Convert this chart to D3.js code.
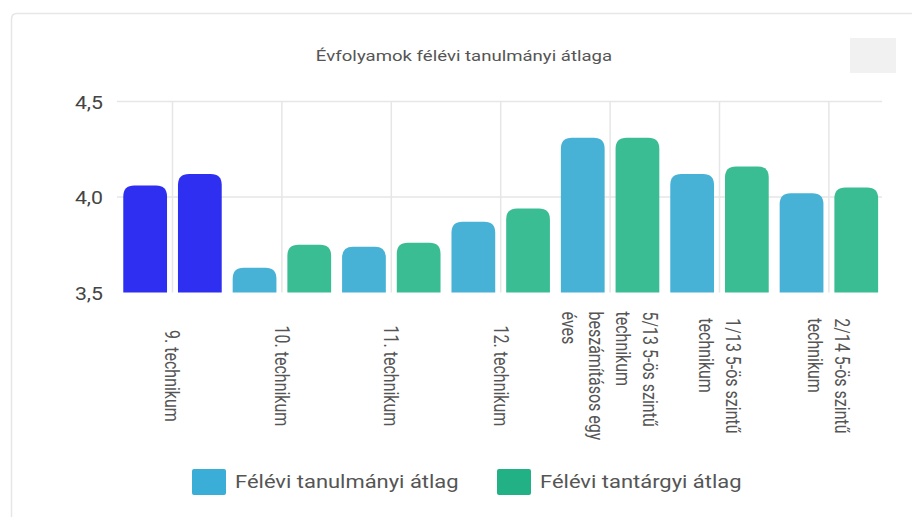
<!DOCTYPE html>
<html>
<head>
<meta charset="utf-8">
<script src="https://cdn.jsdelivr.net/npm/d3@7"></script>
<style>
  body { margin: 0; background: #fff; }
  text { font-family: Roboto, "Noto Sans", sans-serif; }
</style>
</head>
<body>
<svg id="chart"></svg>
<script>
// évfolyamok (több soros címkék)
var categories = [
  ["9. technikum"],
  ["10. technikum"],
  ["11. technikum"],
  ["12. technikum"],
  ["5/13 5-ös szintű", "technikum", "beszámításos egy", "éves"],
  ["1/13 5-ös szintű", "technikum"],
  ["2/14 5-ös szintű", "technikum"]
];
var seriesNames = ["Félévi tanulmányi átlag", "Félévi tantárgyi átlag"];
var tanulmanyi = [4.06, 3.63, 3.74, 3.87, 4.31, 4.12, 4.02];
var tantargyi = [4.12, 3.75, 3.76, 3.94, 4.31, 4.16, 4.05];
var yTicks = [3.5, 4.0, 4.5];
var chartTitle = "Évfolyamok félévi tanulmányi átlaga";

var W = 912, H = 517;
var stretch = 1.22; // a kép vízszintesen nyújtott
var colors = ["#47b2d5", "#3bbd94"];
var highlight = "#2f2ff2"; // az első évfolyam kiemelve
var legendColors = ["#3aaed6", "#22b185"];

var svg = d3.select("#chart").attr("width", W).attr("height", H);

// kártya keret
svg.append("path")
  .attr("d", "M11.5," + H + " V19 Q11.5,13.5 17,13.5 H" + W)
  .attr("fill", "none").attr("stroke", "#e6e6e6").attr("stroke-width", 1.5);

// szürke gomb jobb fent
svg.append("rect").attr("x", 850).attr("y", 38).attr("width", 46).attr("height", 35)
  .attr("fill", "#f1f1f1");

svg.append("text")
  .attr("transform", "translate(464,61) scale(" + 1.24 + ",1)")
  .attr("text-anchor", "middle").attr("font-size", 15).attr("fill", "#555")
  .text(chartTitle);

var x0 = d3.scaleBand().domain(d3.range(categories.length)).range([117.8, 883.6]);
var x1 = d3.scaleBand().domain([0, 1]).range([0, x0.bandwidth()]).paddingInner(0.2).paddingOuter(0.1);
var y = d3.scaleLinear().domain([3.5, 4.5]).range([292.5, 101.5]);

// rácsvonalak
svg.append("g").selectAll("line").data(yTicks.slice(1)).enter().append("line")
  .attr("x1", 117).attr("x2", 882)
  .attr("y1", function (d) { return y(d); }).attr("y2", function (d) { return y(d); })
  .attr("stroke", "#e6e6e6").attr("stroke-width", 1.5);
svg.append("g").selectAll("line").data(categories).enter().append("line")
  .attr("x1", function (d, i) { return x0(i) + x0.bandwidth() / 2; })
  .attr("x2", function (d, i) { return x0(i) + x0.bandwidth() / 2; })
  .attr("y1", y(4.5)).attr("y2", y(3.5))
  .attr("stroke", "#e6e6e6").attr("stroke-width", 1.5);

// y tengely
var yAxis = svg.append("g").attr("transform", "translate(103,0)")
  .call(d3.axisLeft(y).tickValues(yTicks).tickSize(0).tickPadding(0)
    .tickFormat(function (d) { return d3.format(".1f")(d).replace(".", ","); }));
yAxis.select(".domain").remove();
yAxis.selectAll(".tick text")
  .attr("x", null).attr("dy", null)
  .attr("dominant-baseline", "central")
  .attr("transform", "scale(1.12,1)")
  .attr("font-size", 19).attr("fill", "#444")
  .attr("font-family", "Roboto, sans-serif");

// oszlopok lekerekített tetővel
function topRounded(x, yy, w, h, r) {
  r = Math.min(r, w / 2, h);
  return "M" + x + "," + (yy + h) + "V" + (yy + r) +
    "Q" + x + "," + yy + " " + (x + r) + "," + yy +
    "H" + (x + w - r) + "Q" + (x + w) + "," + yy + " " + (x + w) + "," + (yy + r) +
    "V" + (yy + h) + "Z";
}

var rows = categories.map(function (c, i) { return [tanulmanyi[i], tantargyi[i]]; });
var groups = svg.append("g").selectAll("g").data(rows).enter().append("g")
  .attr("transform", function (d, i) { return "translate(" + x0(i) + ",0)"; });
groups.each(function (vals, ci) {
  d3.select(this).selectAll("path").data(vals).enter().append("path")
    .attr("d", function (v, si) {
      return topRounded(x1(si), y(v), x1.bandwidth(), y(3.5) - y(v), 11);
    })
    .attr("fill", function (v, si) { return ci === 0 ? highlight : colors[si]; });
});

// kategória címkék, 90 fokkal elforgatva
var lineGap = 27, midY = 376;
var labels = svg.append("g").selectAll("g").data(categories).enter().append("g");
labels.each(function (lines, i) {
  var g = d3.select(this);
  var cx = x0(i) + x0.bandwidth() / 2;
  var n = lines.length;
  var t = g.selectAll("text").data(lines).enter().append("text")
    .attr("font-size", 16).attr("fill", "#555")
    .attr("dominant-baseline", "central")
    .text(function (d) { return d; });
  var maxLen = d3.max(t.nodes(), function (nd) { return nd.getComputedTextLength(); });
  t.attr("transform", function (d, k) {
    var lx = cx - (k - (n - 1) / 2) * lineGap;
    return "translate(" + lx + "," + (midY - maxLen / 2) + ") scale(" + stretch + ",1) rotate(90)";
  });
});

// jelmagyarázat
var legend = svg.append("g");
var legendX = [192, 497];
seriesNames.forEach(function (name, i) {
  legend.append("rect").attr("x", legendX[i]).attr("y", 469).attr("width", 34).attr("height", 26)
    .attr("rx", 2).attr("fill", legendColors[i]);
  legend.append("text")
    .attr("transform", "translate(" + (legendX[i] + 43) + ",482) scale(" + stretch + ",1)")
    .attr("dominant-baseline", "central").attr("font-size", 18).attr("fill", "#555")
    .text(name);
});
</script>
</body>
</html>
